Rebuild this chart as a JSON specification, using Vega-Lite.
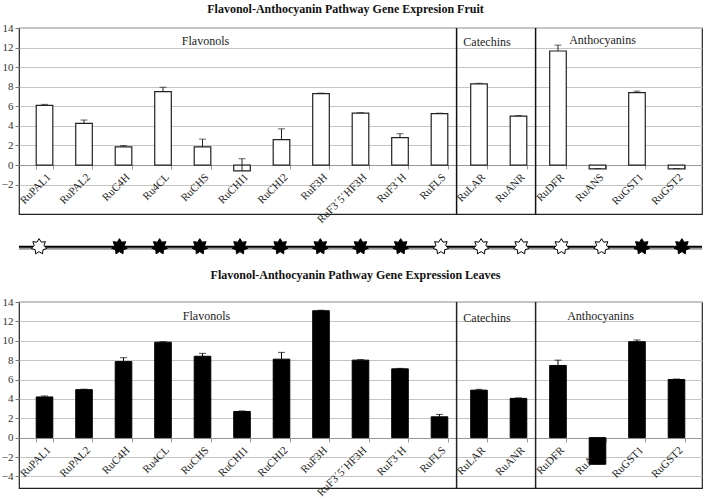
{
  "$schema": "https://vega.github.io/schema/vega-lite/v6.json",
  "padding": {"left": 0, "top": 2, "right": 0, "bottom": 0},
  "background": "white",
  "config": {
    "font": "Liberation Serif",
    "view": {"stroke": "#222", "strokeWidth": 1.2},
    "axis": {"labelFont": "Liberation Serif", "labelColor": "#333", "labelFontSize": 11},
    "axisY": {"labelOverlap": false, "tickCount": 20},
    "title": {"font": "Liberation Serif", "fontSize": 12, "fontWeight": "bold", "color": "#111"}
  },
  "datasets": {
    "fruit": [
      {"gene": "RuPAL1", "value": 6.1, "err_hi": 6.2},
      {"gene": "RuPAL2", "value": 4.25, "err_hi": 4.6},
      {"gene": "RuC4H", "value": 1.85, "err_hi": 2.0},
      {"gene": "Ru4CL", "value": 7.5, "err_hi": 7.95},
      {"gene": "RuCHS", "value": 1.85, "err_hi": 2.65},
      {"gene": "RuCHI1", "value": -0.6, "err_hi": 0.65},
      {"gene": "RuCHI2", "value": 2.6, "err_hi": 3.7},
      {"gene": "RuF3H", "value": 7.3, "err_hi": 7.35},
      {"gene": "RuF3´5´HF3H", "value": 5.3, "err_hi": 5.35},
      {"gene": "RuF3´H", "value": 2.8, "err_hi": 3.2},
      {"gene": "RuFLS", "value": 5.25, "err_hi": 5.3},
      {"gene": "RuLAR", "value": 8.3, "err_hi": 8.35},
      {"gene": "RuANR", "value": 5.0, "err_hi": 5.05},
      {"gene": "RuDFR", "value": 11.65, "err_hi": 12.25},
      {"gene": "RuANS", "value": -0.4, "err_hi": -0.35},
      {"gene": "RuGST1", "value": 7.4, "err_hi": 7.55},
      {"gene": "RuGST2", "value": -0.4, "err_hi": -0.35}
    ],
    "leaves": [
      {"gene": "RuPAL1", "value": 4.2, "err_hi": 4.3},
      {"gene": "RuPAL2", "value": 4.95, "err_hi": 5.0},
      {"gene": "RuC4H", "value": 7.85, "err_hi": 8.25},
      {"gene": "Ru4CL", "value": 9.85, "err_hi": 9.9},
      {"gene": "RuCHS", "value": 8.4, "err_hi": 8.7},
      {"gene": "RuCHI1", "value": 2.7, "err_hi": 2.75},
      {"gene": "RuCHI2", "value": 8.1, "err_hi": 8.8},
      {"gene": "RuF3H", "value": 13.1, "err_hi": 13.15},
      {"gene": "RuF3´5´HF3H", "value": 8.0, "err_hi": 8.05},
      {"gene": "RuF3´H", "value": 7.1, "err_hi": 7.15},
      {"gene": "RuFLS", "value": 2.15, "err_hi": 2.4},
      {"gene": "RuLAR", "value": 4.9, "err_hi": 4.98},
      {"gene": "RuANR", "value": 4.05, "err_hi": 4.1},
      {"gene": "RuDFR", "value": 7.45, "err_hi": 8.0},
      {"gene": "RuANS", "value": -2.75, "err_hi": -2.7},
      {"gene": "RuGST1", "value": 9.9, "err_hi": 10.08},
      {"gene": "RuGST2", "value": 6.0, "err_hi": 6.05}
    ],
    "stars": [
      {"gene": "RuPAL1", "marker": "open"},
      {"gene": "RuC4H", "marker": "filled"},
      {"gene": "Ru4CL", "marker": "filled"},
      {"gene": "RuCHS", "marker": "filled"},
      {"gene": "RuCHI1", "marker": "filled"},
      {"gene": "RuCHI2", "marker": "filled"},
      {"gene": "RuF3H", "marker": "filled"},
      {"gene": "RuF3´5´HF3H", "marker": "filled"},
      {"gene": "RuF3´H", "marker": "filled"},
      {"gene": "RuFLS", "marker": "open"},
      {"gene": "RuLAR", "marker": "open"},
      {"gene": "RuANR", "marker": "open"},
      {"gene": "RuDFR", "marker": "open"},
      {"gene": "RuANS", "marker": "open"},
      {"gene": "RuGST1", "marker": "filled"},
      {"gene": "RuGST2", "marker": "filled"}
    ],
    "dividers": [{"gene": "RuLAR"}, {"gene": "RuDFR"}],
    "one": [{}]
  },
  "spacing": 10,
  "bounds": "flush",
  "vconcat": [
    {
      "width": 683,
      "height": 186,
      "title": {"text": "Flavonol-Anthocyanin Pathway Gene Expresion Fruit", "dx": -15, "offset": 6},
      "layer": [
        {
          "data": {"name": "fruit"},
          "mark": {"type": "bar", "fill": "white", "stroke": "#222", "strokeWidth": 1.2},
          "encoding": {
            "x": {"field": "gene", "type": "nominal", "title": null,
              "scale": {"domain": ["RuPAL1","RuPAL2","RuC4H","Ru4CL","RuCHS","RuCHI1","RuCHI2","RuF3H","RuF3´5´HF3H","RuF3´H","RuFLS","RuLAR","RuANR","RuDFR","RuANS","RuGST1","RuGST2"], "paddingInner": 0.58, "paddingOuter": 0.436},
              "axis": {"labelAngle": -45, "offset": -49, "domainColor": "#999", "tickColor": "#999", "tickSize": 4, "tickBand": "extent", "labelPadding": 2, "labelColor": "#222"}},
            "y": {"field": "value", "type": "quantitative", "title": null,
              "scale": {"domain": [-5, 14], "nice": false},
              "axis": {"values": [-2, 0, 2, 4, 6, 8, 10, 12, 14], "tickCount": 20, "labelOverlap": false, "domain": false, "tickColor": "#777", "tickSize": 4, "gridColor": "#c4c4c4", "labelPadding": 2}}
          }
        },
        {
          "data": {"name": "fruit"},
          "mark": {"type": "rule", "color": "#222", "strokeWidth": 1},
          "encoding": {
            "x": {"field": "gene", "type": "nominal"},
            "y": {"field": "value", "type": "quantitative"},
            "y2": {"field": "err_hi"}
          }
        },
        {
          "data": {"name": "fruit"},
          "mark": {"type": "tick", "color": "#222", "thickness": 1, "size": 7},
          "encoding": {
            "x": {"field": "gene", "type": "nominal"},
            "y": {"field": "err_hi", "type": "quantitative"}
          }
        },
        {
          "data": {"name": "dividers"},
          "mark": {"type": "rule", "color": "#111", "strokeWidth": 1.5},
          "encoding": {
            "x": {"field": "gene", "type": "nominal", "bandPosition": -0.85}
          }
        },
        {
          "data": {"name": "one"},
          "mark": {"type": "text", "fontSize": 12, "color": "#222", "dx": 3},
          "encoding": {"x": {"datum": "RuCHS"}, "y": {"datum": 12.7}, "text": {"value": "Flavonols"}}
        },
        {
          "data": {"name": "one"},
          "mark": {"type": "text", "fontSize": 12, "color": "#222", "dx": 8},
          "encoding": {"x": {"datum": "RuLAR"}, "y": {"datum": 12.6}, "text": {"value": "Catechins"}}
        },
        {
          "data": {"name": "one"},
          "mark": {"type": "text", "fontSize": 12, "color": "#222", "dx": 5},
          "encoding": {"x": {"datum": "RuANS"}, "y": {"datum": 12.8}, "text": {"value": "Anthocyanins"}}
        }
      ]
    },
    {
      "width": 683,
      "height": 68,
      "view": {"stroke": null},
      "layer": [
        {
          "data": {"name": "one"},
          "mark": {"type": "rule", "color": "#999", "strokeWidth": 2, "yOffset": 2},
          "encoding": {"y": {"datum": 0.667, "type": "quantitative", "scale": {"domain": [0, 1]}, "axis": null}}
        },
        {
          "data": {"name": "one"},
          "mark": {"type": "rule", "color": "#000", "strokeWidth": 2},
          "encoding": {"y": {"datum": 0.667, "type": "quantitative"}}
        },
        {
          "data": {"name": "stars"},
          "mark": {"type": "point", "shape": "M0,-1L0.269,-0.559L0.782,-0.623L0.604,-0.138L0.975,0.223L0.485,0.387L0.434,0.901L0,0.62L-0.434,0.901L-0.485,0.387L-0.975,0.223L-0.604,-0.138L-0.782,-0.623L-0.269,-0.559Z", "size": 256, "filled": true, "stroke": "#000", "strokeWidth": 1, "opacity": 1},
          "encoding": {
            "x": {"field": "gene", "type": "nominal", "axis": null,
              "scale": {"domain": ["RuPAL1","RuPAL2","RuC4H","Ru4CL","RuCHS","RuCHI1","RuCHI2","RuF3H","RuF3´5´HF3H","RuF3´H","RuFLS","RuLAR","RuANR","RuDFR","RuANS","RuGST1","RuGST2"], "paddingInner": 0.58, "paddingOuter": 0.436}},
            "y": {"datum": 0.667, "type": "quantitative"},
            "fill": {"field": "marker", "type": "nominal", "scale": {"domain": ["filled", "open"], "range": ["#000", "#fff"]}, "legend": null}
          }
        }
      ]
    },
    {
      "width": 683,
      "height": 186,
      "title": {"text": "Flavonol-Anthocyanin Pathway Gene Expression Leaves", "dx": -5, "offset": 14},
      "layer": [
        {
          "data": {"name": "leaves"},
          "mark": {"type": "bar", "fill": "#000", "stroke": "#000", "strokeWidth": 1},
          "encoding": {
            "x": {"field": "gene", "type": "nominal", "title": null,
              "scale": {"domain": ["RuPAL1","RuPAL2","RuC4H","Ru4CL","RuCHS","RuCHI1","RuCHI2","RuF3H","RuF3´5´HF3H","RuF3´H","RuFLS","RuLAR","RuANR","RuDFR","RuANS","RuGST1","RuGST2"], "paddingInner": 0.58, "paddingOuter": 0.436},
              "axis": {"labelAngle": -45, "offset": -50, "domainColor": "#999", "tickColor": "#999", "tickSize": 4, "tickBand": "extent", "labelPadding": 2, "labelColor": "#222"}},
            "y": {"field": "value", "type": "quantitative", "title": null,
              "scale": {"domain": [-5.2, 14], "nice": false},
              "axis": {"values": [-4, -2, 0, 2, 4, 6, 8, 10, 12, 14], "tickCount": 20, "labelOverlap": false, "domain": false, "tickColor": "#777", "tickSize": 4, "gridColor": "#c4c4c4", "labelPadding": 2}}
          }
        },
        {
          "data": {"name": "leaves"},
          "mark": {"type": "rule", "color": "#000", "strokeWidth": 1},
          "encoding": {
            "x": {"field": "gene", "type": "nominal"},
            "y": {"field": "value", "type": "quantitative"},
            "y2": {"field": "err_hi"}
          }
        },
        {
          "data": {"name": "leaves"},
          "mark": {"type": "tick", "color": "#000", "thickness": 1, "size": 7},
          "encoding": {
            "x": {"field": "gene", "type": "nominal"},
            "y": {"field": "err_hi", "type": "quantitative"}
          }
        },
        {
          "data": {"name": "dividers"},
          "mark": {"type": "rule", "color": "#222", "strokeWidth": 1.5},
          "encoding": {
            "x": {"field": "gene", "type": "nominal", "bandPosition": -0.85}
          }
        },
        {
          "data": {"name": "one"},
          "mark": {"type": "text", "fontSize": 12, "color": "#222", "dx": 4},
          "encoding": {"x": {"datum": "RuCHS"}, "y": {"datum": 12.6}, "text": {"value": "Flavonols"}}
        },
        {
          "data": {"name": "one"},
          "mark": {"type": "text", "fontSize": 12, "color": "#222", "dx": 8},
          "encoding": {"x": {"datum": "RuLAR"}, "y": {"datum": 12.4}, "text": {"value": "Catechins"}}
        },
        {
          "data": {"name": "one"},
          "mark": {"type": "text", "fontSize": 12, "color": "#222", "dx": 3},
          "encoding": {"x": {"datum": "RuANS"}, "y": {"datum": 12.6}, "text": {"value": "Anthocyanins"}}
        }
      ]
    }
  ]
}
